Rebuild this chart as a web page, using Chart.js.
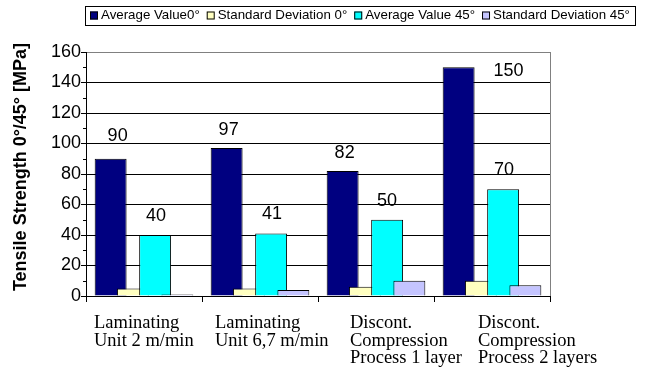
<!DOCTYPE html>
<html>
<head>
<meta charset="utf-8">
<script src="https://cdn.jsdelivr.net/npm/chart.js@4/dist/chart.umd.min.js"></script>
<style>
  html, body { margin: 0; padding: 0; background: #fff; }
  canvas { display: block; }
</style>
</head>
<body>
<canvas id="chart" width="647" height="385"></canvas>
<script>
// Tensile strength per production process, 0° and 45° specimens
const categories = [
  ['Laminating', 'Unit 2 m/min'],
  ['Laminating', 'Unit 6,7 m/min'],
  ['Discont.', 'Compression', 'Process 1 layer'],
  ['Discont.', 'Compression', 'Process 2 layers']
];
const seriesNames = ['Average Value0°', 'Standard Deviation 0°', 'Average Value 45°', 'Standard Deviation 45°'];
const avg0  = [90, 97, 82, 150];
const std0  = [5, 5, 6, 10];
const avg45 = [40, 41, 50, 70];
const std45 = [1, 4, 10, 7];
const yTickValues = [0, 20, 40, 60, 80, 100, 120, 140, 160];
const yMinorValues = [10, 30, 50, 70, 90, 110, 130, 150];
const yTitle = 'Tensile Strength 0°/45° [MPa]';

// presentation
const colors = ['#000080', '#FFFFC0', '#00FFFF', '#C4C4FF'];
const labelledSeries = [0, 2];              // series that carry value labels
const labelLift = { 0: [23, 18, 18, 18], 2: [19, 19, 19, 19] };  // gap above the bar
const labelShift = { 0: [7, 2, 2, 0], 2: [1, 1, 0, 1] };         // sideways nudge
const labelInset = [8, 13, 32, 44];         // category caption indent from the left boundary
const SANS = '"Liberation Sans", Arial, Helvetica, sans-serif';
const SERIF = '"Liberation Serif", "Times New Roman", serif';

const seriesData = [avg0, std0, avg45, std45];

// draw bars so that later series sit on top of earlier ones
const layeredBars = {
  id: 'layeredBars',
  beforeDatasetsDraw(chart) {
    const { ctx, chartArea: a } = chart;
    ctx.save();
    ctx.beginPath();
    ctx.rect(a.left, a.top - 1, a.right - a.left, a.bottom - a.top + 1);
    ctx.clip();
    chart.getSortedVisibleDatasetMetas().forEach(m => m.controller.draw());
    ctx.restore();
    return false;
  }
};

const decorations = {
  id: 'decorations',
  afterDraw(chart) {
    const { ctx, chartArea: a, scales: { x, y } } = chart;
    ctx.save();

    // plot-area frame on the right
    ctx.strokeStyle = '#808080';
    ctx.lineWidth = 1;
    ctx.beginPath();
    ctx.moveTo(Math.round(a.right) + 0.5, a.top);
    ctx.lineTo(Math.round(a.right) + 0.5, a.bottom);
    ctx.stroke();

    // minor ticks on the value axis
    ctx.strokeStyle = '#000';
    ctx.beginPath();
    yMinorValues.forEach(v => {
      const py = Math.round(y.getPixelForValue(v)) + 0.5;
      ctx.moveTo(a.left - 3, py);
      ctx.lineTo(a.left, py);
    });
    ctx.stroke();

    // axis title
    ctx.save();
    ctx.fillStyle = '#000';
    ctx.font = 'bold 18px ' + SANS;
    ctx.textAlign = 'center';
    ctx.textBaseline = 'middle';
    ctx.translate(21, (a.top + a.bottom) / 2 - 7);
    ctx.rotate(-Math.PI / 2);
    ctx.fillText(yTitle, 0, 0);
    ctx.restore();

    // value labels (moved beside the bar when there is no room above it)
    ctx.fillStyle = '#000';
    ctx.font = '18px ' + SANS;
    labelledSeries.forEach(di => {
      const meta = chart.getDatasetMeta(di);
      meta.data.forEach((bar, i) => {
        const text = String(seriesData[di][i]);
        const above = bar.y - labelLift[di][i];
        ctx.textBaseline = 'middle';
        if (above - 10 < a.top) {
          ctx.textAlign = 'left';
          ctx.fillText(text, bar.x + bar.width / 2 + 19, bar.y + 4);
        } else {
          ctx.textAlign = 'center';
          ctx.fillText(text, bar.x + labelShift[di][i], above);
        }
      });
    });

    // category captions
    ctx.font = '18.5px ' + SERIF;
    ctx.textAlign = 'left';
    ctx.textBaseline = 'alphabetic';
    const half = (x.getPixelForValue(1) - x.getPixelForValue(0)) / 2;
    categories.forEach((lines, i) => {
      const left = x.getPixelForValue(i) - half + labelInset[i];
      lines.forEach((t, j) => ctx.fillText(t, left, x.top + 32.3 + j * 17.5));
    });

    // legend
    ctx.font = '13.3px ' + SANS;
    ctx.textBaseline = 'middle';
    const box = 8, gapIn = 3, gapOut = 7, pad = 5, midY = 15.5;
    const widths = seriesNames.map(n => ctx.measureText(n).width);
    const total = widths.reduce((s, w) => s + box + gapIn + w, 0) + gapOut * (seriesNames.length - 1);
    let cx = Math.round(360 - total / 2);
    ctx.strokeStyle = '#000';
    ctx.strokeRect(cx - pad + 0.5, 6.5, Math.round(total + 2 * pad), 19);
    seriesNames.forEach((n, i) => {
      ctx.fillStyle = colors[i];
      ctx.fillRect(cx, midY - box / 2, box, box);
      ctx.strokeRect(cx + 0.5, midY - box / 2 + 0.5, box - 1, box - 1);
      ctx.fillStyle = '#000';
      ctx.fillText(n, cx + box + gapIn, midY);
      cx += box + gapIn + widths[i] + gapOut;
    });

    ctx.restore();
  }
};

new Chart(document.getElementById('chart'), {
  type: 'bar',
  data: {
    labels: categories,
    datasets: seriesNames.map((name, i) => ({
      label: name,
      data: seriesData[i],
      backgroundColor: colors[i],
      borderColor: '#000',
      borderWidth: 1,
      categoryPercentage: 0.767,
      barPercentage: 1.435
    }))
  },
  options: {
    responsive: false,
    animation: false,
    devicePixelRatio: 1,
    layout: { padding: { top: 52, right: 97, bottom: 0, left: 0 } },
    plugins: {
      legend: { display: false },
      tooltip: { enabled: false }
    },
    scales: {
      x: {
        type: 'category',
        offset: true,
        border: { display: true, color: '#000', width: 1 },
        grid: { offset: true, drawOnChartArea: false, drawTicks: true, tickLength: 6, tickColor: '#000' },
        ticks: { display: false },
        afterFit: s => { s.height = 89; }
      },
      y: {
        min: 0,
        max: 160,
        border: { display: true, color: '#000', width: 1 },
        grid: {
          color: c => (c.tick && c.tick.value === 160 ? '#808080' : '#000'),
          lineWidth: 1,
          drawTicks: true,
          tickLength: 5,
          tickColor: '#000'
        },
        ticks: {
          color: '#000',
          padding: 0,
          font: { family: SANS, size: 18 }
        },
        afterBuildTicks: s => { s.ticks = yTickValues.map(v => ({ value: v })); },
        title: { display: false },
        afterFit: s => { s.width = 86; }
      }
    }
  },
  plugins: [layeredBars, decorations]
});
</script>
</body>
</html>
